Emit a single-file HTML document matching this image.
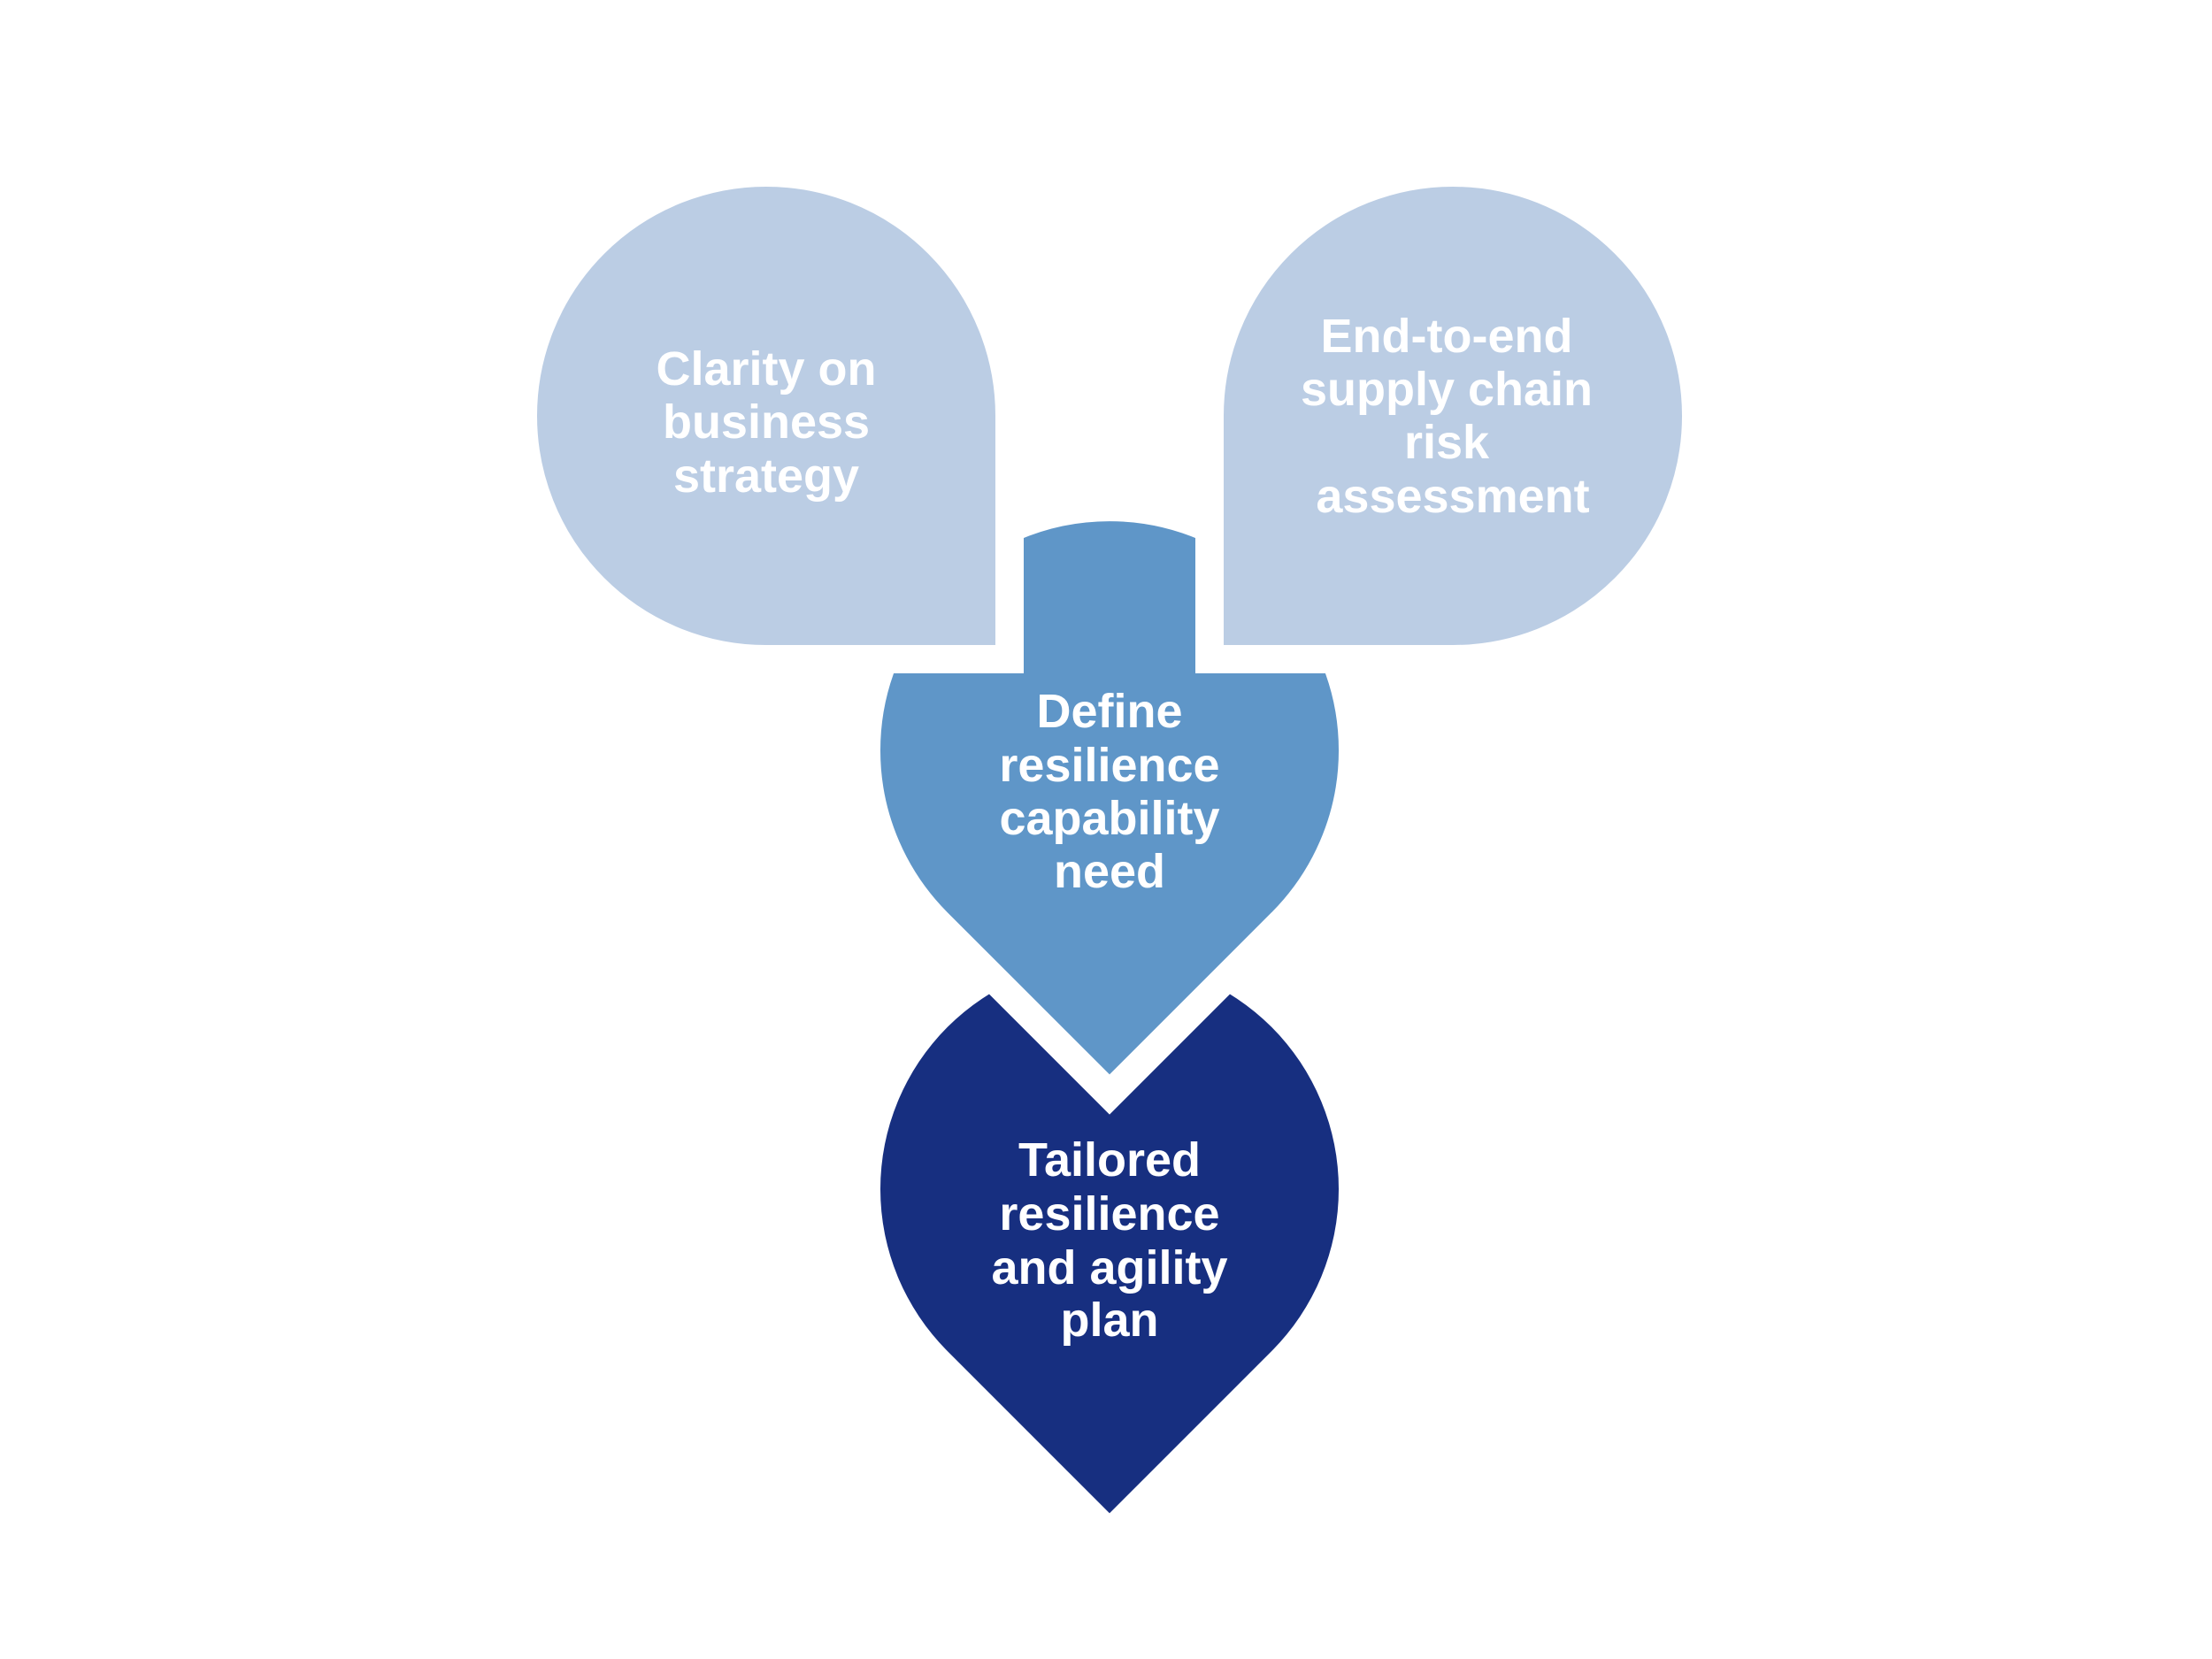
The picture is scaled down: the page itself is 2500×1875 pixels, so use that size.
<!DOCTYPE html>
<html><head><meta charset="utf-8"><style>html,body{margin:0;padding:0;background:#fff}svg{display:block}</style></head>
<body>
<svg width="2500" height="1875" viewBox="0 0 2500 1875" xmlns="http://www.w3.org/2000/svg">
<g font-family="Liberation Sans, DejaVu Sans, sans-serif" font-weight="bold" font-size="54" fill="#fff" text-anchor="middle">
<!-- bottom -->
<path d="M1437.1,1527.1 A259,259 0 1 0 1070.9,1527.1 L1254,1710.3 Z" fill="#172F80"/>
<!-- middle -->
<path d="M1448.5,1042.5 A275,275 0 1 0 1059.5,1042.5 L1254,1237 Z" fill="#5F96C8" stroke="#fff" stroke-width="32" stroke-linejoin="miter"/>
<!-- left -->
<path d="M866,745 A275,275 0 1 1 1141,470 L1141,745 Z" fill="#BBCDE4" stroke="#fff" stroke-width="32"/>
<!-- right -->
<path d="M1367,470 A275,275 0 1 1 1642,745 L1367,745 Z" fill="#BBCDE4" stroke="#fff" stroke-width="32"/>
<text x="866" y="435">Clarity on</text>
<text x="866" y="495">business</text>
<text x="866" y="556">strategy</text>
<text x="1635" y="398">End-to-end</text>
<text x="1635" y="458">supply chain</text>
<text x="1635" y="518">risk</text>
<text x="1642" y="579">assessment</text>
<text x="1254" y="822">Define</text>
<text x="1254" y="883">resilience</text>
<text x="1254" y="943">capability</text>
<text x="1254" y="1003">need</text>
<text x="1254" y="1329">Tailored</text>
<text x="1254" y="1390">resilience</text>
<text x="1254" y="1451">and agility</text>
<text x="1254" y="1510">plan</text>
</g>
</svg>
</body></html>
